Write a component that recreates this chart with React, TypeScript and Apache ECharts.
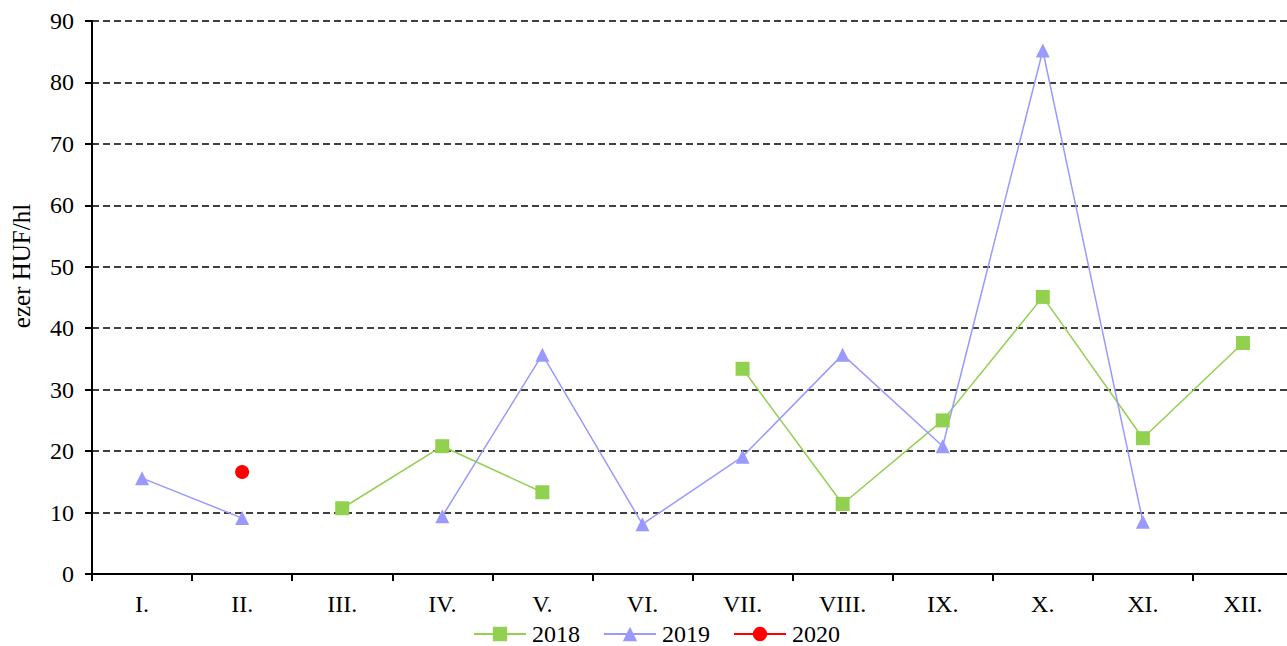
import React, { useEffect, useRef } from "react";
import * as echarts from "echarts";

const months = ["I.", "II.", "III.", "IV.", "V.", "VI.", "VII.", "VIII.", "IX.", "X.", "XI.", "XII."];
const s2018 = [null, null, 10.7, 20.8, 13.3, null, 33.4, 11.4, 25.0, 45.1, 22.1, 37.6];
const s2019 = [15.6, 9.1, null, 9.4, 35.7, 8.1, 19.1, 35.7, 20.8, 85.2, 8.5, null];
const s2020 = [null, 16.6, null, null, null, null, null, null, null, null, null, null];
const yAxisName = "ezer HUF/hl";

const FONT = "Liberation Serif";

export default function App() {
  const ref = useRef<HTMLDivElement>(null);
  useEffect(() => {
    if (!ref.current) return;
    const chart = echarts.init(ref.current, null, { renderer: "svg" });
    chart.setOption({
      animation: false,
      textStyle: { fontFamily: FONT, color: "#000" },
      grid: { left: 92, right: 0, top: 21, bottom: 72, containLabel: false },
      legend: {
        bottom: 0,
        left: 468,
        itemWidth: 52,
        itemHeight: 18,
        itemGap: 23,
        padding: [0, 5, 0, 5],
        textStyle: { fontFamily: FONT, fontSize: 24, color: "#000", padding: [0, 0, 0, 1] },
        data: ["2018", "2019", "2020"],
      },
      graphic: [
        {
          type: "text",
          x: 21,
          y: 266,
          rotation: Math.PI / 2,
          style: {
            text: yAxisName,
            fontFamily: FONT,
            fontSize: 25,
            fill: "#000",
            align: "center",
            verticalAlign: "middle",
          },
        },
      ],
      xAxis: {
        type: "category",
        data: months,
        boundaryGap: true,
        axisLine: { lineStyle: { color: "#000", width: 2 } },
        axisTick: { show: true, inside: false, length: 7, lineStyle: { color: "#000", width: 2 } },
        axisLabel: { fontFamily: FONT, fontSize: 24, color: "#000", margin: 18 },
      },
      yAxis: {
        type: "value",
        min: 0,
        max: 90,
        interval: 10,
        axisLine: { show: true, lineStyle: { color: "#000", width: 2 } },
        axisTick: { show: true, inside: false, length: 7, lineStyle: { color: "#000", width: 2 } },
        axisLabel: { fontFamily: FONT, fontSize: 24, color: "#000", margin: 18 },
        splitLine: { show: true, lineStyle: { color: "#000", type: [7, 4], width: 1.5 } },
      },
      series: [
        {
          name: "2018",
          type: "line",
          data: s2018,
          connectNulls: false,
          symbol: "rect",
          symbolSize: 14,
          itemStyle: { color: "#92d050" },
          lineStyle: { color: "#92d050", width: 1.5 },
        },
        {
          name: "2019",
          type: "line",
          data: s2019,
          connectNulls: false,
          symbol: "triangle",
          symbolSize: 14,
          itemStyle: { color: "#9999ff" },
          lineStyle: { color: "#9999ff", width: 1.5 },
        },
        {
          name: "2020",
          type: "line",
          data: s2020,
          connectNulls: false,
          symbol: "circle",
          symbolSize: 14,
          itemStyle: { color: "#ff0000" },
          lineStyle: { color: "#ff0000", width: 1.5 },
        },
      ],
    });
    return () => chart.dispose();
  }, []);
  return (
    <div style={{ width: 1287, height: 646, position: "absolute", left: 0, top: 0, overflow: "hidden" }}>
      <div ref={ref} style={{ width: 1293, height: 646 }} />
    </div>
  );
}
